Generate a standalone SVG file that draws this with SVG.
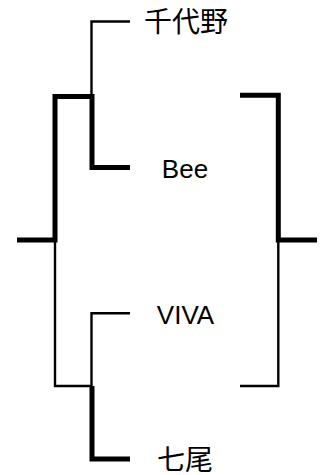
<svg xmlns="http://www.w3.org/2000/svg" width="320" height="475" viewBox="0 0 320 475">
<style>
.thin{fill:none;stroke:#000;stroke-width:2.4;stroke-linejoin:miter;stroke-linecap:butt}
.thick{fill:none;stroke:#000;stroke-width:5;stroke-linejoin:miter;stroke-linecap:butt}
text{font-family:"Liberation Sans","Noto Sans CJK JP",sans-serif;fill:#000;text-anchor:middle}
.jp{font-size:28px}
.en{font-size:26px}
</style>
<rect width="320" height="475" fill="#fff"/>
<g id="connectors">
<path class="thin" d="M130,21.5 H91.5 V96"/>
<path class="thick" d="M17,240 H55 V96.5 H92 V167.5 H130"/>
<path class="thin" d="M55,240 V386 H92"/>
<path class="thin" d="M130,313.3 H91.5 V386"/>
<path class="thick" d="M92,386 V459 H130"/>
<path class="thick" d="M240,95.2 H278.3 V240 H317"/>
<path class="thin" d="M278.3,240 V386 H240"/>
</g>
<g id="n-chiyono"><text class="jp" x="186" y="32">千代野</text></g>
<g id="n-bee"><text class="en" x="185" y="178">Bee</text></g>
<g id="n-viva"><text class="en" x="185.5" y="324">VIVA</text></g>
<g id="n-nanao"><text class="jp" x="185" y="470">七尾</text></g>
</svg>
